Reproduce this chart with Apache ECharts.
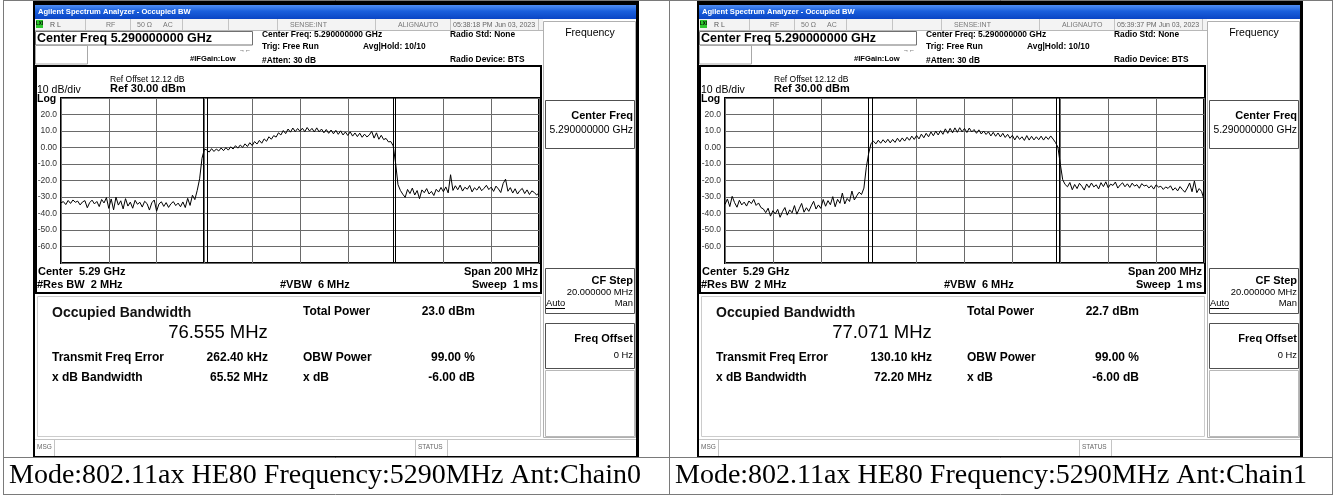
<!DOCTYPE html>
<html>
<head>
<meta charset="utf-8">
<script src="https://cdn.jsdelivr.net/npm/echarts@6/dist/echarts.min.js"></script>
<style>html,body{margin:0;padding:0;background:#fff}#c{width:1336px;height:495px}</style>
</head>
<body>
<div id="c"></div>
<script>
// ---- data ----
const freqStartMHz = -100;   // offset from 5.29 GHz centre
const freqStepMHz = 1;
const yTicks = [-70, -60, -50, -40, -30, -20, -10, 0, 10, 20, 30];
const yTickLabels = ['', '-60.0', '-50.0', '-40.0', '-30.0', '-20.0', '-10.0', '0.00', '10.0', '20.0', ''];

const traceChain0 = [
-33.5,-32.8,-34.6,-32.1,-33.9,-31.8,-33.2,-32.5,-34.8,-33.0,
-32.2,-36.5,-33.4,-31.9,-34.2,-32.7,-35.8,-31.5,-33.6,-30.4,
-36.9,-31.2,-37.8,-30.1,-34.9,-32.3,-37.2,-31.0,-35.5,-33.1,
-36.8,-32.0,-34.4,-33.2,-36.1,-32.6,-34.0,-37.9,-33.5,-31.8,
-38.6,-34.2,-32.9,-35.7,-33.4,-36.3,-34.1,-32.8,-35.2,-33.7,
-35.9,-33.0,-36.4,-30.8,-35.1,-28.9,-31.6,-26.0,-19.0,-6.5,
-1.0,-1.5,-2.8,-0.7,-2.4,-0.9,-2.1,-0.3,-1.9,-0.1,
-1.6,0.4,-0.9,1.1,-0.4,1.5,0.1,2.2,0.6,2.9,
1.2,3.6,2.1,4.3,2.6,5.2,3.8,6.5,5.0,7.2,
6.3,8.9,7.6,10.3,8.4,11.2,9.3,11.8,9.6,11.5,
9.8,11.7,9.6,12.1,10.0,11.6,9.4,11.9,9.5,11.2,
8.9,10.9,8.6,10.6,8.3,10.4,8.0,10.1,7.6,9.4,
7.3,9.5,6.9,8.8,6.6,8.7,6.2,8.1,6.4,7.6,
9.8,5.7,8.9,5.0,7.4,4.8,5.5,3.4,3.6,1.0,
-9.5,-22.5,-26.0,-28.3,-30.2,-25.4,-27.9,-24.6,-28.8,-26.1,
-31.0,-25.7,-27.4,-24.9,-28.2,-26.6,-29.1,-25.3,-27.0,-24.2,
-26.8,-23.9,-27.5,-16.5,-26.0,-23.2,-25.6,-22.8,-26.4,-24.1,
-25.3,-23.0,-26.9,-24.4,-25.8,-23.6,-26.2,-24.7,-22.9,-25.5,
-24.0,-26.6,-23.4,-25.1,-27.3,-21.8,-19.2,-26.5,-24.3,-27.6,
-25.0,-28.2,-26.1,-24.8,-27.9,-25.7,-28.5,-26.3,-27.2,-28.8,
-27.5];

const traceChain1 = [
-34.5,-31.2,-35.8,-29.6,-33.4,-36.2,-32.0,-34.8,-33.1,-35.5,
-32.4,-34.0,-31.5,-35.1,-33.6,-36.4,-37.2,-39.5,-36.8,-41.6,
-38.3,-40.2,-37.5,-42.3,-38.9,-36.4,-41.0,-37.8,-39.6,-35.2,
-40.4,-37.1,-33.9,-39.2,-36.5,-38.7,-35.4,-32.6,-37.3,-34.8,
-36.9,-31.5,-35.6,-32.2,-34.7,-29.8,-35.9,-31.4,-33.8,-27.6,
-34.2,-30.9,-32.7,-26.4,-31.8,-29.3,-27.1,-28.5,-24.6,-12.0,
-3.5,2.5,3.8,2.2,4.4,2.6,4.7,2.9,5.0,2.8,
4.9,3.1,5.6,3.5,5.8,3.9,6.2,4.4,6.9,4.9,
7.3,5.2,8.1,5.9,8.6,6.5,9.4,7.1,9.9,7.6,
10.2,8.0,11.3,8.6,11.6,8.9,11.9,9.2,12.0,9.5,
11.6,9.1,11.8,9.4,10.9,8.6,10.7,8.2,10.0,7.9,
9.5,7.0,9.2,6.8,8.8,6.4,8.6,6.1,8.0,5.6,
7.4,4.6,7.1,4.9,6.5,4.3,7.2,4.5,6.8,4.6,
6.5,4.7,6.9,4.5,6.6,4.9,7.0,5.1,3.0,0.2,
-10.0,-19.5,-22.4,-23.8,-21.2,-25.6,-22.4,-24.9,-21.7,-23.5,
-25.8,-22.1,-24.3,-21.5,-23.9,-22.6,-25.1,-21.3,-23.7,-20.8,
-24.4,-22.2,-23.0,-20.9,-24.6,-22.7,-21.4,-23.8,-22.0,-24.2,
-21.6,-23.4,-22.5,-24.7,-21.9,-23.3,-22.8,-24.5,-23.1,-25.2,
-22.6,-24.0,-23.5,-25.4,-23.9,-24.8,-23.2,-25.9,-24.4,-26.3,
-23.7,-25.5,-27.1,-24.6,-21.5,-26.8,-20.3,-27.4,-24.9,-26.7,
-31.5];

const markersChain0 = [-40.4, -38.8, 39.0, 40.0];
const markersChain1 = [-40.3, -38.5, 38.5, 39.6];

const timestamps = ['05:38:18 PM Jun 03, 2023', '05:39:37 PM Jun 03, 2023'];
const obwValues = ['76.555 MHz', '77.071 MHz'];
const totalPowers = ['23.0 dBm', '22.7 dBm'];
const freqErrors = ['262.40 kHz', '130.10 kHz'];
const xdbBandwidths = ['65.52 MHz', '72.20 MHz'];
const captions = ['Mode:802.11ax HE80 Frequency:5290MHz Ant:Chain0', 'Mode:802.11ax HE80 Frequency:5290MHz Ant:Chain1'];

// ---- build ----
const SANS = '"Liberation Sans", Arial, sans-serif';
function toPairs(arr) { return arr.map((v, i) => [freqStartMHz + i * freqStepMHz, v]); }

function screenChrome(dx, k) {
  const els = [];
  const R = (x, y, w, h, style) => els.push({type: 'rect', silent: true, shape: {x: x + dx, y, width: w, height: h}, style});
  const L = (x1, y1, x2, y2, stroke, lw) => els.push({type: 'line', silent: true, shape: {x1: x1 + dx, y1, x2: x2 + dx, y2}, style: {stroke, lineWidth: lw || 1}});
  const T = (x, y, text, font, align, fill) => els.push({type: 'text', silent: true, x: x + dx, y,
    style: {text, font: font + ' ' + SANS, fill: fill || '#000', textAlign: align || 'left', textVerticalAlign: 'middle', align: align || 'left', verticalAlign: 'middle'}});
  // black screen frame
  R(33, 0, 606, 5, {fill: '#000'});
  R(33, 0, 2, 458, {fill: '#000'});
  R(636, 0, 3, 458, {fill: '#000'});
  R(33, 456, 606, 2, {fill: '#000'});
  // title bar
  R(35, 5, 601, 14, {fill: new echarts.graphic.LinearGradient(0, 0, 0, 1, [{offset: 0, color: '#4f8df2'}, {offset: 0.45, color: '#1a5fdc'}, {offset: 1, color: '#0a45c4'}])});
  T(38, 12, 'Agilent Spectrum Analyzer - Occupied BW', 'bold 7.6px', 'left', '#fff');
  // status row
  R(35, 19, 508, 11, {fill: '#f3f3f3'});
  L(35, 30.5, 543, 30.5, '#b8b8b8');
  [85, 130, 182, 228, 277, 375, 450, 538].forEach(x => L(x + 0.5, 19, x + 0.5, 30, '#c4c4c4'));
  R(36, 20, 7, 8, {fill: '#2ec82e'});
  T(39.5, 24, 'LXI', 'bold 4.5px', 'center', '#000');
  T(50, 25, 'R L', '7px', 'left', '#555');
  T(106, 25, 'RF', '7px', 'left', '#777');
  T(137, 25, '50 Ω', '7px', 'left', '#777');
  T(163, 25, 'AC', '7px', 'left', '#777');
  T(290, 25, 'SENSE:INT', '7px', 'left', '#777');
  T(398, 25, 'ALIGNAUTO', '7px', 'left', '#777');
  T(453, 25, timestamps[k], '7px', 'left', '#666');
  // centre freq box
  R(35.5, 31.5, 217, 13.5, {fill: '#fff', stroke: '#707070', lineWidth: 1});
  T(37, 38.5, 'Center Freq 5.290000000 GHz', 'bold 12.5px');
  R(35.5, 45.5, 52, 18.5, {fill: 'none', stroke: '#a8a8a8', lineWidth: 1});
  T(245, 50, '→←', '6px', 'center', '#000');
  T(190, 59, '#IFGain:Low', 'bold 7.6px');
  T(262, 35, 'Center Freq: 5.290000000 GHz', 'bold 8.4px');
  T(262, 47, 'Trig: Free Run', 'bold 8.4px');
  T(262, 60.5, '#Atten: 30 dB', 'bold 8.4px');
  T(363, 47, 'Avg|Hold: 10/10', 'bold 8.4px');
  T(450, 35, 'Radio Std: None', 'bold 8.4px');
  T(450, 60, 'Radio Device: BTS', 'bold 8.4px');
  // graph frame
  R(36, 66, 505, 227, {fill: 'none', stroke: '#000', lineWidth: 2});
  T(110, 80, 'Ref Offset 12.12 dB', '8.5px');
  T(110, 88.5, 'Ref 30.00 dBm', 'bold 11px');
  T(37, 90, '10 dB/div', '10.5px');
  T(37, 99.5, 'Log', 'bold 10.5px');
  T(38, 272, 'Center  5.29 GHz', 'bold 11px');
  T(37, 285, '#Res BW  2 MHz', 'bold 11px');
  T(280, 285, '#VBW  6 MHz', 'bold 11px');
  T(538, 272, 'Span 200 MHz', 'bold 11px', 'right');
  T(538, 285, 'Sweep  1 ms', 'bold 11px', 'right');
  // result panel
  R(37.5, 296.5, 503, 140, {fill: 'none', stroke: '#cccccc', lineWidth: 1});
  T(52, 313, 'Occupied Bandwidth', 'bold 14px', 'left', '#111');
  T(218, 333, obwValues[k], '18.5px', 'center', '#000');
  T(52, 358, 'Transmit Freq Error', 'bold 12px');
  T(268, 358, freqErrors[k], 'bold 12px', 'right');
  T(52, 378, 'x dB Bandwidth', 'bold 12px');
  T(268, 378, xdbBandwidths[k], 'bold 12px', 'right');
  T(303, 312, 'Total Power', 'bold 12px');
  T(475, 312, totalPowers[k], 'bold 12px', 'right');
  T(303, 358, 'OBW Power', 'bold 12px');
  T(475, 358, '99.00 %', 'bold 12px', 'right');
  T(303, 378, 'x dB', 'bold 12px');
  T(475, 378, '-6.00 dB', 'bold 12px', 'right');
  // message row
  L(35, 439.5, 636, 439.5, '#c4c4c4');
  T(37, 447.5, 'MSG', '6.5px', 'left', '#666');
  L(54.5, 440, 54.5, 456, '#c4c4c4');
  T(418, 447.5, 'STATUS', '6.5px', 'left', '#666');
  L(415.5, 440, 415.5, 456, '#c4c4c4');
  L(447.5, 440, 447.5, 456, '#c4c4c4');
  // softkey panel
  R(543.5, 21.5, 92, 416, {fill: 'none', stroke: '#b0b0b0', lineWidth: 1});
  T(590, 33, 'Frequency', '10.5px', 'center');
  R(545.5, 100.5, 89, 48, {fill: 'none', stroke: '#505050', lineWidth: 1});
  T(633, 116, 'Center Freq', 'bold 11px', 'right');
  T(633, 130, '5.290000000 GHz', '10.3px', 'right');
  R(545.5, 268.5, 89, 45, {fill: 'none', stroke: '#505050', lineWidth: 1});
  T(633, 281, 'CF Step', 'bold 11px', 'right');
  T(633, 292.5, '20.000000 MHz', '9.4px', 'right');
  T(546, 303, 'Auto', '9.4px', 'left');
  L(546, 308.5, 565, 308.5, '#000');
  T(633, 303, 'Man', '9.4px', 'right');
  R(545.5, 323.5, 89, 45, {fill: 'none', stroke: '#505050', lineWidth: 1});
  T(633, 339, 'Freq Offset', 'bold 11px', 'right');
  T(633, 355, '0 Hz', '9.4px', 'right');
  R(545.5, 370.5, 89, 66, {fill: 'none', stroke: '#b8b8b8', lineWidth: 1});
  return els;
}

const CAP_FONT = '28px "Liberation Serif", "Times New Roman", serif';
const tableEls = [
  {type: 'line', silent: true, shape: {x1: 3.5, y1: 0, x2: 3.5, y2: 495}, style: {stroke: '#7a7a7a', lineWidth: 1}},
  {type: 'line', silent: true, shape: {x1: 669.5, y1: 0, x2: 669.5, y2: 495}, style: {stroke: '#7a7a7a', lineWidth: 1}},
  {type: 'line', silent: true, shape: {x1: 1332.5, y1: 0, x2: 1332.5, y2: 495}, style: {stroke: '#7a7a7a', lineWidth: 1}},
  {type: 'line', silent: true, shape: {x1: 3, y1: 0.5, x2: 1333, y2: 0.5}, style: {stroke: '#7a7a7a', lineWidth: 1}},
  {type: 'line', silent: true, shape: {x1: 3, y1: 457.5, x2: 1333, y2: 457.5}, style: {stroke: '#7a7a7a', lineWidth: 1}},
  {type: 'line', silent: true, shape: {x1: 3, y1: 494.5, x2: 1333, y2: 494.5}, style: {stroke: '#7a7a7a', lineWidth: 1}},
  {type: 'text', silent: true, x: 9, y: 476, style: {text: captions[0], font: CAP_FONT, fill: '#000', textAlign: 'left', textVerticalAlign: 'middle', align: 'left', verticalAlign: 'middle'}},
  {type: 'text', silent: true, x: 675, y: 476, style: {text: captions[1], font: CAP_FONT, fill: '#000', textAlign: 'left', textVerticalAlign: 'middle', align: 'left', verticalAlign: 'middle'}}
];

function xAxisDef(gi) {
  return {type: 'value', gridIndex: gi, min: -100, max: 100, interval: 20,
    axisLine: {show: false}, axisTick: {show: false}, axisLabel: {show: false},
    splitLine: {show: true, lineStyle: {color: '#6a6a6a', width: 1}}};
}
function yAxisDef(gi) {
  return {type: 'value', gridIndex: gi, min: -70, max: 30, interval: 10,
    axisLine: {show: false}, axisTick: {show: false},
    axisLabel: {show: true, margin: 4, fontSize: 8.5, fontFamily: SANS, color: '#333',
      formatter: v => { const i = yTicks.indexOf(v); return i < 0 ? '' : yTickLabels[i]; }},
    splitLine: {show: true, lineStyle: {color: '#6a6a6a', width: 1}}};
}
function traceSeries(gi, data, markers) {
  return {type: 'line', xAxisIndex: gi, yAxisIndex: gi, data: toPairs(data),
    showSymbol: false, symbol: 'none', animation: false, z: 3,
    lineStyle: {color: '#000', width: 1},
    markLine: {silent: true, symbol: ['none', 'none'], animation: false, label: {show: false},
      lineStyle: {color: '#000', width: 1, type: 'solid'},
      data: markers.map(x => ({xAxis: x}))}};
}

const chart = echarts.init(document.getElementById('c'), null, {renderer: 'canvas', width: 1336, height: 495});
chart.setOption({
  animation: false,
  backgroundColor: '#fff',
  grid: [
    {left: 61, top: 98, width: 478, height: 165, show: true, borderColor: '#000', borderWidth: 2, backgroundColor: 'transparent'},
    {left: 725, top: 98, width: 479, height: 165, show: true, borderColor: '#000', borderWidth: 2, backgroundColor: 'transparent'}
  ],
  xAxis: [xAxisDef(0), xAxisDef(1)],
  yAxis: [yAxisDef(0), yAxisDef(1)],
  series: [traceSeries(0, traceChain0, markersChain0), traceSeries(1, traceChain1, markersChain1)],
  graphic: {elements: [].concat(screenChrome(0, 0), screenChrome(664, 1), tableEls)}
});
</script>
</body>
</html>
